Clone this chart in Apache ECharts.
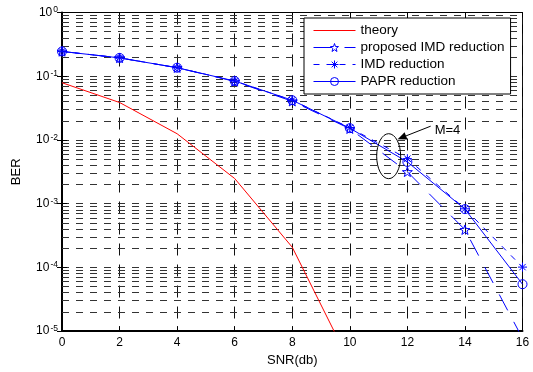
<!DOCTYPE html>
<html>
<head>
<meta charset="utf-8">
<script src="https://cdn.jsdelivr.net/npm/echarts@6/dist/echarts.min.js"></script>
<style>
html,body{margin:0;padding:0;background:#fff;}
#c{width:533px;height:372px;}
</style>
</head>
<body>
<div id="c"></div>
<script>
// ---- data ----
const snr = [0, 2, 4, 6, 8, 10, 12, 14, 16];
const snrTheory = [0, 2, 4, 6, 8, 10];
const theory = [0.079, 0.0387, 0.0125, 0.00248, 0.000207, 3.2e-6];
const proposedIMD = [0.245, 0.194, 0.136, 0.083, 0.0405, 0.0150, 0.00316, 0.00039, 7.7e-6];
const imdReduction = [0.245, 0.194, 0.136, 0.084, 0.042, 0.0155, 0.00508, 0.00083, 0.000101];
const paprReduction = [0.245, 0.194, 0.136, 0.084, 0.042, 0.0153, 0.00452, 0.00082, 5.44e-5];
const seriesNames = ['theory', 'proposed IMD reduction', 'IMD reduction', 'PAPR reduction'];
const xTicks = [0, 2, 4, 6, 8, 10, 12, 14, 16];
const yDecades = [1e-5, 1e-4, 1e-3, 1e-2, 1e-1, 1];
const annotationText = 'M=4';

const FONT = '"Liberation Sans", Arial, Helvetica, sans-serif';
const BLUE = '#0000ff';
const RED = '#ff0000';

// minor log grid lines 2..9 x 10^k
const minorLines = [];
for (let k = -5; k < 0; k++) {
  for (let m = 2; m <= 9; m++) minorLines.push({ yAxis: m * Math.pow(10, k) });
}

const pair = (xs, ys) => xs.map((x, i) => [x, ys[i]]);

const starPath = 'path://M0,-10L2.35,-3.24L9.51,-3.09L3.8,1.24L5.88,8.09L0,4L-5.88,8.09L-3.8,1.24L-9.51,-3.09L-2.35,-3.24Z';
const asteriskPath = 'path://M0,-10L0,10M-10,0L10,0M-7.07,-7.07L7.07,7.07M-7.07,7.07L7.07,-7.07';

const chart = echarts.init(document.getElementById('c'), null, { renderer: 'canvas' });

const yLabelFmt = v => {
  const e = Math.round(Math.log10(v));
  return '{b|10}{s|' + e + '}';
};

const legendItem = (name, color, type, hideSymbol) => ({
  name: name,
  itemStyle: { color: 'rgba(0,0,0,0)', borderColor: color, borderWidth: 1, opacity: hideSymbol ? 0 : 1 },
  lineStyle: { color: color, width: 1, type: type }
});

const option = {
  backgroundColor: '#fff',
  animation: false,
  textStyle: { fontFamily: FONT },
  grid: { left: 62, right: 10.5, top: 12.5, bottom: 38, show: true, borderColor: '#000', borderWidth: 1, backgroundColor: 'transparent' },
  legend: {
    data: [
      legendItem(seriesNames[0], RED, 'solid', true),
      legendItem(seriesNames[1], BLUE, [18, 13], false),
      legendItem(seriesNames[2], BLUE, [6, 7], false),
      legendItem(seriesNames[3], BLUE, 'solid', false)
    ],
    orient: 'vertical',
    left: 304, top: 18, z: 30,
    padding: [4, 6, 4, 9],
    itemWidth: 42, itemHeight: 10, itemGap: 0,
    backgroundColor: '#fff',
    borderColor: '#000', borderWidth: 1,
    textStyle: { fontSize: 13.5, lineHeight: 17, color: '#000', fontFamily: FONT },
    selectedMode: false
  },
  xAxis: [{
    type: 'value', min: 0, max: 16, interval: 2,
    name: 'SNR(db)', nameLocation: 'middle', nameGap: 19,
    nameTextStyle: { fontSize: 13, color: '#000', fontFamily: FONT },
    axisLine: { show: true, onZero: false, lineStyle: { color: '#000', width: 2 } },
    axisTick: { show: true, inside: true, length: 5, lineStyle: { color: '#000' } },
    axisLabel: { fontSize: 12, color: '#000', margin: 6, fontFamily: FONT },
    splitLine: { show: true, lineStyle: { color: '#111', type: [12, 9], width: 1 } }
  }, {
    type: 'value', min: 0, max: 16, interval: 2, position: 'top',
    axisLine: { show: true, lineStyle: { color: '#000', width: 1 } },
    axisTick: { show: true, inside: true, length: 5, lineStyle: { color: '#000' } },
    axisLabel: { show: false }, splitLine: { show: false }
  }],
  yAxis: [{
    type: 'log', logBase: 10, min: 1e-5, max: 1,
    name: 'BER', nameLocation: 'middle', nameGap: 39, nameRotate: 90,
    nameTextStyle: { fontSize: 13, color: '#000', fontFamily: FONT },
    axisLine: { show: true, onZero: false, lineStyle: { color: '#000', width: 2 } },
    axisTick: { show: true, inside: true, length: 5, lineStyle: { color: '#000' } },
    axisLabel: {
      formatter: yLabelFmt, margin: 4,
      rich: {
        b: { fontSize: 12, color: '#000', fontFamily: FONT, lineHeight: 14, verticalAlign: 'middle' },
        s: { fontSize: 8.5, color: '#000', fontFamily: FONT, lineHeight: 14, verticalAlign: 'top', padding: [0, 0, 0, 1] }
      }
    },
    splitLine: { show: true, lineStyle: { color: '#333', type: [7, 7], width: 1 } }
  }, {
    type: 'log', logBase: 10, min: 1e-5, max: 1, position: 'right',
    axisLine: { show: true, lineStyle: { color: '#000', width: 1 } },
    axisTick: { show: true, inside: true, length: 5, lineStyle: { color: '#000' } },
    axisLabel: { show: false }, splitLine: { show: false }
  }],
  series: [
    {
      name: '_grid', type: 'line', data: [], silent: true, z: 1,
      markLine: {
        silent: true, symbol: 'none', label: { show: false }, precision: 12, z: 1,
        lineStyle: { color: '#333', type: [7, 7], width: 1 },
        data: minorLines, animation: false
      }
    },
    {
      name: seriesNames[0], type: 'line', data: pair(snrTheory, theory), z: 3,
      showSymbol: false, symbol: 'none',
      lineStyle: { color: RED, width: 1 }, itemStyle: { color: RED }
    },
    {
      name: seriesNames[1], type: 'line', data: pair(snr, proposedIMD), z: 4,
      symbol: starPath, symbolSize: 10, symbolKeepAspect: true, showAllSymbol: true,
      lineStyle: { color: BLUE, width: 1, type: [18, 13] },
      itemStyle: { color: 'rgba(0,0,0,0)', borderColor: BLUE, borderWidth: 1 }
    },
    {
      name: seriesNames[2], type: 'line', data: pair(snr, imdReduction), z: 4,
      symbol: asteriskPath, symbolSize: 9, symbolKeepAspect: true, showAllSymbol: true,
      lineStyle: { color: BLUE, width: 1, type: [6, 7] },
      itemStyle: { color: 'rgba(0,0,0,0)', borderColor: BLUE, borderWidth: 1 }
    },
    {
      name: seriesNames[3], type: 'line', data: pair(snr, paprReduction), z: 4,
      symbol: 'circle', symbolSize: 9, showAllSymbol: true,
      lineStyle: { color: BLUE, width: 1 },
      itemStyle: { color: 'rgba(0,0,0,0)', borderColor: BLUE, borderWidth: 1 }
    }
  ]
};
chart.setOption(option);

// annotation: ellipse around the curves near SNR=11.35 with an arrow and "M=4"
const c = chart.convertToPixel({ xAxisIndex: 0, yAxisIndex: 0 }, [11.35, 0.00556]);
const tail = [c[0] + 42, c[1] - 30];
const head = [c[0] + 9, c[1] - 17];
const dx = head[0] - tail[0], dy = head[1] - tail[1];
const len = Math.sqrt(dx * dx + dy * dy);
const ux = dx / len, uy = dy / len;
const hl = 9, hw = 4;
const bx = head[0] - ux * hl, by = head[1] - uy * hl;
chart.setOption({
  graphic: [
    { type: 'ellipse', shape: { cx: c[0], cy: c[1], rx: 12, ry: 22.5 }, style: { fill: 'none', stroke: '#000', lineWidth: 1 }, z: 10 },
    { type: 'line', shape: { x1: tail[0], y1: tail[1], x2: bx, y2: by }, style: { stroke: '#000', lineWidth: 1 }, z: 10 },
    { type: 'polygon', shape: { points: [head, [bx - uy * hw, by + ux * hw], [bx + uy * hw, by - ux * hw]] }, style: { fill: '#000' }, z: 10 },
    { type: 'text', x: tail[0] + 4, y: tail[1] + 4, style: { text: annotationText, font: '13px ' + FONT, fill: '#000', textAlign: 'left', textVerticalAlign: 'middle' }, z: 10 }
  ]
});
</script>
</body>
</html>
